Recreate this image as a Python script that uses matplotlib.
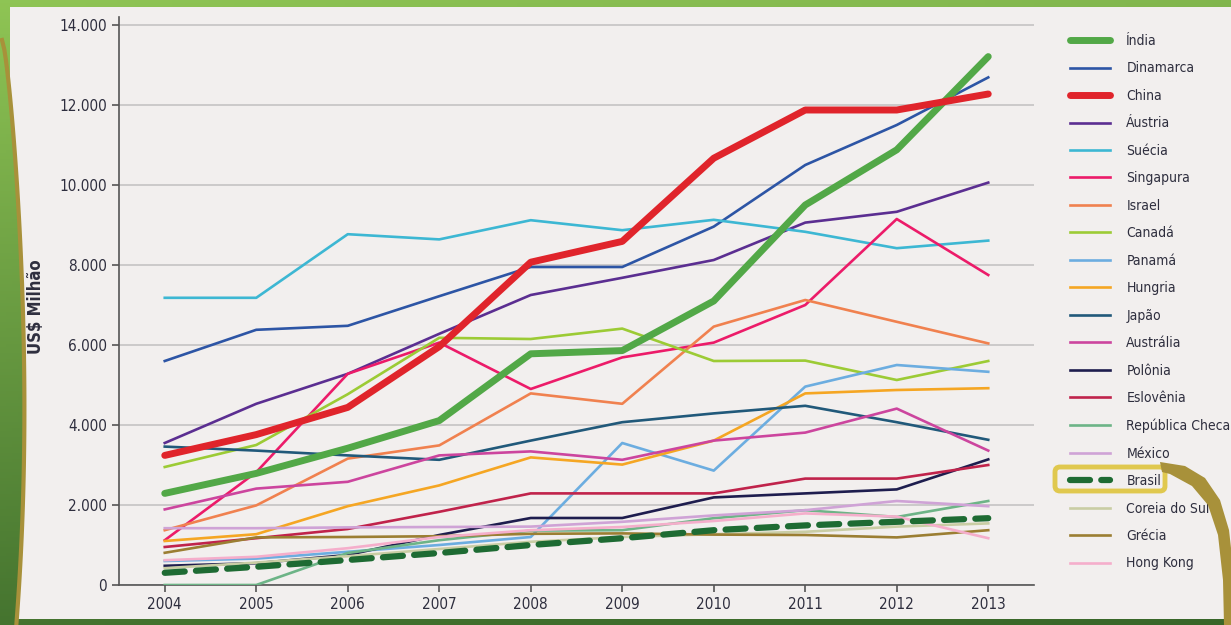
import numpy as np
import matplotlib
matplotlib.use("Agg")
import matplotlib.pyplot as plt
from matplotlib.patches import Polygon, FancyBboxPatch
from matplotlib.ticker import FuncFormatter

plt.rcParams['font.family'] = ['Liberation Sans Narrow', 'DejaVu Sans']
plt.rcParams['font.stretch'] = 'condensed'

years = list(range(2004, 2014))

countries = ["Índia", "Dinamarca", "China", "Áustria", "Suécia", "Singapura", "Israel",
             "Canadá", "Panamá", "Hungria", "Japão", "Austrália", "Polônia", "Eslovênia",
             "República Checa", "México", "Brasil", "Coreia do Sul", "Grécia", "Hong Kong"]

india = [2290, 2790, 3420, 4110, 5780, 5860, 7100, 9500, 10880, 13210]
dinamarca = [5600, 6380, 6480, 7220, 7950, 7950, 8960, 10500, 11500, 12690]
china = [3240, 3760, 4440, 5960, 8070, 8590, 10670, 11875, 11875, 12275]
austria = [3550, 4530, 5280, 6280, 7250, 7680, 8125, 9060, 9330, 10060]
suecia = [7180, 7180, 8770, 8640, 9120, 8870, 9130, 8830, 8420, 8610]
singapura = [1120, 2820, 5280, 6060, 4900, 5690, 6060, 7000, 9150, 7750]
israel = [1370, 1990, 3160, 3490, 4790, 4530, 6460, 7125, 6580, 6040]
canada = [2950, 3500, 4770, 6180, 6150, 6410, 5600, 5610, 5125, 5600]
panama = [600, 660, 830, 1000, 1200, 3550, 2860, 4960, 5500, 5330]
hungria = [1100, 1270, 1970, 2490, 3190, 3010, 3610, 4790, 4875, 4920]
japao = [3460, 3360, 3240, 3130, 3610, 4070, 4290, 4480, 4070, 3630]
australia = [1890, 2410, 2580, 3240, 3340, 3130, 3610, 3810, 4410, 3360]
polonia = [480, 545, 750, 1250, 1675, 1675, 2190, 2290, 2390, 3140]
eslovenia = [950, 1170, 1400, 1830, 2290, 2290, 2290, 2660, 2660, 3000]
rep_checa = [0, 0, 800, 1120, 1360, 1370, 1670, 1870, 1700, 2100]
mexico = [1420, 1420, 1440, 1450, 1460, 1580, 1740, 1870, 2100, 1970]
brasil = [305, 455, 625, 800, 1000, 1170, 1370, 1490, 1580, 1670]
coreia = [420, 560, 720, 900, 1080, 1200, 1270, 1330, 1460, 1540]
grecia = [805, 1190, 1200, 1220, 1280, 1290, 1260, 1250, 1190, 1370]
hongkong = [620, 705, 920, 1200, 1370, 1450, 1600, 1790, 1710, 1170]

series = [india, dinamarca, china, austria, suecia, singapura, israel, canada, panama,
          hungria, japao, australia, polonia, eslovenia, rep_checa, mexico, brasil,
          coreia, grecia, hongkong]

colors = ["#52A847", "#2D55A5", "#E0242B", "#5B2E91", "#3DB7D3", "#EC1B69", "#F0814F",
          "#9CCB35", "#6CADE0", "#F5A623", "#21597A", "#CC459E", "#1E1D4E", "#C0234B",
          "#6DB487", "#CFA3D6", "#1E6B33", "#C9CDA4", "#9B7E32", "#F5AECB"]

W, H = 1231, 625
fig = plt.figure(figsize=(W / 100, H / 100), dpi=100)

# background: green gradient, light panel, golden arcs
bg = fig.add_axes([0, 0, 1, 1], zorder=-10)
yy = np.linspace(0, 1, 200)[:, None]
xx = np.linspace(0, 1, 200)[None, :]
top = np.array([0.56, 0.77, 0.33])
bot = np.array([0.22, 0.40, 0.16])
t = np.clip(yy * 0.85 + xx * 0.15, 0, 1)
grad = top[None, None, :] * (1 - t[..., None]) + bot[None, None, :] * t[..., None]
bg.imshow(grad, extent=[0, W, H, 0], aspect='auto')
bg.set_xlim(0, W)
bg.set_ylim(H, 0)
bg.axis('off')

arc_y = np.linspace(40, H, 60)
arc_x = 2 + 27 * np.sin(np.pi * (arc_y - 40) / 1000) ** 0.7 - 12 * ((arc_y - 40) / 585) ** 3
left_edge = np.maximum(arc_x, 10)
panel_pts = [(10, 7)] + [(10, 40)] + list(zip(left_edge, arc_y)) + [(W, H), (W, 7)]
panel_pts = [(x, min(y, 619)) for x, y in panel_pts]
bg.add_patch(Polygon(panel_pts, closed=True, facecolor="#F2EFEE", edgecolor='none'))
bg.plot(arc_x, arc_y, color="#A8913A", lw=3)

ax = fig.add_axes([119 / W, 40 / H, (1034 - 119) / W, (608 - 40) / H])
ax.set_facecolor('none')

for i, (name, vals, c) in enumerate(zip(countries, series, colors)):
    if name in ("Índia", "China"):
        ax.plot(years, vals, color=c, lw=5, solid_capstyle='round', label=name, zorder=5)
    elif name == "Brasil":
        ax.plot(years, vals, color=c, lw=4.5, dashes=(3.2, 1.8), dash_capstyle='round',
                label=name, zorder=6)
    else:
        ax.plot(years, vals, color=c, lw=1.9, label=name, zorder=4)

ax.set_xlim(2003.5, 2013.5)
ax.set_ylim(0, 14200)
ax.set_yticks(range(0, 14001, 2000))
ax.set_xticks(years)
ax.yaxis.set_major_formatter(FuncFormatter(lambda v, p: f"{int(v):,}".replace(",", ".")))
ax.grid(axis='y', color="#C9C7C7", lw=1.3)
ax.set_axisbelow(True)
for s in ("top", "right"):
    ax.spines[s].set_visible(False)
for s in ("left", "bottom"):
    ax.spines[s].set_color("#555555")
    ax.spines[s].set_linewidth(1.2)
ax.tick_params(colors="#555555", labelcolor="#2E2E3E", labelsize=11, length=5, width=1.2)
ax.set_ylabel("US$ Milhão", fontsize=12, fontweight='bold', color="#2E2E3E")
ax.yaxis.set_label_coords((45 - 119) / (1034 - 119), 0.49)

leg = ax.legend(loc='upper left', bbox_to_anchor=(1070 / W, 1 - 34 / H),
                bbox_transform=fig.transFigure, frameon=False, fontsize=10,
                handlelength=2.85, handletextpad=1.2, labelspacing=0.97,
                borderpad=0, borderaxespad=0)
for txt in leg.get_texts():
    txt.set_color("#2E2E3E")

# highlight box around Brasil and golden curve
fg = fig.add_axes([0, 0, 1, 1], zorder=10)
fg.set_xlim(0, W)
fg.set_ylim(H, 0)
fg.axis('off')
fg.patch.set_alpha(0)
fg.add_patch(FancyBboxPatch((1055, 467), 110, 24, boxstyle="round,pad=0,rounding_size=5",
                            facecolor='none', edgecolor="#E0C84E", lw=3.5))
curve = [(1160, 462), (1185, 466), (1205, 478), (1220, 500), (1229, 530), (1234, 575),
         (1236, 625), (1224, 625), (1223, 580), (1218, 535), (1208, 505), (1192, 486),
         (1170, 474), (1162, 472)]
fg.add_patch(Polygon(curve, closed=True, facecolor="#A8913A", edgecolor='none'))

fig.savefig("out.png", dpi=100)
